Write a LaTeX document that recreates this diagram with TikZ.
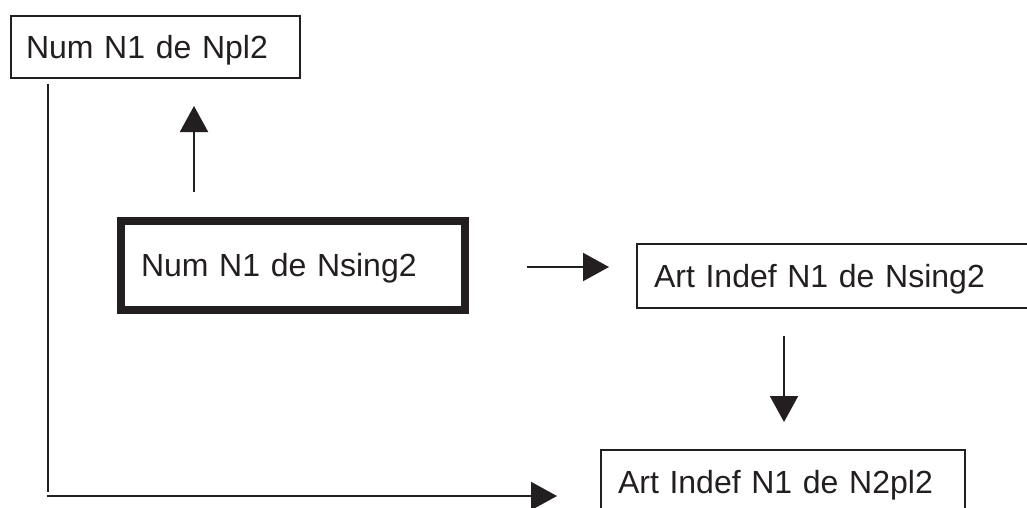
\documentclass[tikz,border=0pt]{standalone}
\usepackage{fontspec}
\setmainfont{Liberation Sans}
\usetikzlibrary{arrows.meta}
\definecolor{ink}{RGB}{35,31,32}
\begin{document}
\begin{tikzpicture}[x=1pt,y=-1pt,
  font=\fontsize{32}{38}\selectfont,
  every node/.style={text=ink},
  box/.style={draw=ink, line width=2pt, rectangle, align=left,
              inner ysep=0pt, text height=23pt, text depth=0pt},
  mainbox/.style={box, line width=8pt},
  arr/.style={draw=ink, line width=2pt,
              -{Triangle[length=26pt,width=28pt]}},
  plain/.style={draw=ink, line width=2pt}]
  % page frame
  \clip (0,0) rectangle (1027,508);
  \fill[white] (0,0) rectangle (1027,508);

  % boxes
  \node[box, minimum height=62pt, inner xsep=15pt, text width=259pt]
    (npl) at (155.5,47) {Num N1 de Npl2};
  \node[mainbox, minimum height=88.5pt, inner xsep=20pt, text width=304pt]
    (nsing) at (293,265.25) {Num N1 de Nsing2};
  \node[box, minimum height=64pt, inner xsep=17pt, text width=369pt]
    (artsing) at (838.5,276) {Art Indef N1 de Nsing2};
  \node[box, minimum height=63pt, inner xsep=17pt, text width=330pt]
    (artpl) at (783,481.5) {Art Indef N1 de N2pl2};

  % connector end points
  \coordinate (upS) at (194,192);
  \coordinate (upE) at (194,106);
  \coordinate (rtS) at (527,267);
  \coordinate (rtE) at (609,267);
  \coordinate (dnS) at (784,336);
  \coordinate (dnE) at (784,422);
  \coordinate (lTop) at (48,84);
  \coordinate (lBot) at (48,492);
  \coordinate (lCorner) at (47,496);
  \coordinate (lEnd) at (557,496);

  % connectors
  \draw[arr] (upS) -- (upE);
  \draw[arr] (rtS) -- (rtE);
  \draw[arr] (dnS) -- (dnE);
  \draw[plain] (lTop) -- (lBot);
  \draw[arr] (lCorner) -- (lEnd);
\end{tikzpicture}
\end{document}
